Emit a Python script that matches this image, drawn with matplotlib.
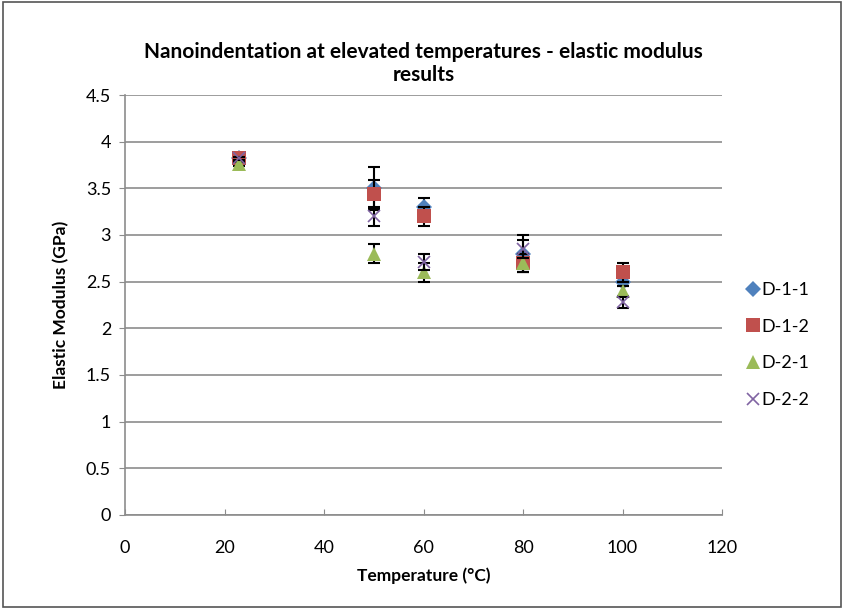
import matplotlib.pyplot as plt
from matplotlib.patches import Rectangle

plt.rcParams["font.family"] = ["Lato", "DejaVu Sans"]

temps = [23, 50, 60, 80, 100]

d11 = [3.82, 3.50, 3.30, 2.80, 2.50]
d11_err = [0.02, 0.23, 0.10, 0.20, 0.05]
d12 = [3.82, 3.44, 3.20, 2.70, 2.60]
d12_err = [0.02, 0.15, 0.10, 0.10, 0.10]
d21 = [3.76, 2.80, 2.60, 2.70, 2.40]
d21_err = [0.02, 0.10, 0.10, 0.10, 0.05]
d22 = [3.82, 3.20, 2.71, 2.85, 2.28]
d22_err = [0.02, 0.10, 0.09, 0.10, 0.06]

series = [
    ("D-1-1", d11, d11_err, "D", "#4F81BD", 8.5),
    ("D-1-2", d12, d12_err, "s", "#C0504D", 10.5),
    ("D-2-1", d21, d21_err, "^", "#9BBB59", 10.5),
    ("D-2-2", d22, d22_err, "x", "#8064A2", 9),
]

fig = plt.figure(figsize=(8.44, 6.09), dpi=100)
ax = fig.add_axes([0.1481, 0.1544, 0.7074, 0.6896])

for i, (name, vals, err, marker, color, ms) in enumerate(series):
    ax.errorbar(temps, vals, yerr=err, fmt="none", ecolor="black",
                elinewidth=1.5, capsize=4.5, capthick=1.5, zorder=2 + i * 2)
    ax.plot(temps, vals, linestyle="none", marker=marker, color=color,
            markersize=ms, markeredgewidth=1.2 if marker == "x" else 0,
            label=name, zorder=3 + i * 2)

ax.set_xlim(0, 120)
ax.set_ylim(0, 4.5)
ax.set_xticks(range(0, 121, 20))
ax.set_yticks([0, 0.5, 1, 1.5, 2, 2.5, 3, 3.5, 4, 4.5])
ax.set_yticklabels(["0", "0.5", "1", "1.5", "2", "2.5", "3", "3.5", "4", "4.5"])
ax.grid(axis="y", color="#8c8c8c", linewidth=1.2)
ax.set_axisbelow(True)
for side in ["top", "right"]:
    ax.spines[side].set_visible(False)
for side in ["left", "bottom"]:
    ax.spines[side].set_color("#8c8c8c")
    ax.spines[side].set_linewidth(1.2)
ax.tick_params(axis="y", direction="out", length=4, color="#8c8c8c",
               labelsize=13, pad=6)
ax.tick_params(axis="x", direction="in", length=4, color="#8c8c8c",
               labelsize=13, pad=18)

ax.set_xlabel("Temperature (°C)", fontsize=12.5, fontweight="bold", labelpad=8)
ax.set_ylabel("Elastic Modulus (GPa)", fontsize=12.5, fontweight="bold", labelpad=12)
ax.set_title("Nanoindentation at elevated temperatures - elastic modulus\nresults",
             fontsize=15, fontweight="bold", pad=10, linespacing=1.2)

fig.legend(loc="upper left", bbox_to_anchor=(0.881, 0.537), frameon=False,
           fontsize=13, handletextpad=0.0, handlelength=1.0,
           labelspacing=1.15, borderaxespad=0, borderpad=0)

fig.patches.append(Rectangle((0.004, 0.004), 0.992, 0.992, transform=fig.transFigure,
                             fill=False, edgecolor="#555555", linewidth=1.2))

fig.savefig("out.png", dpi=100)
